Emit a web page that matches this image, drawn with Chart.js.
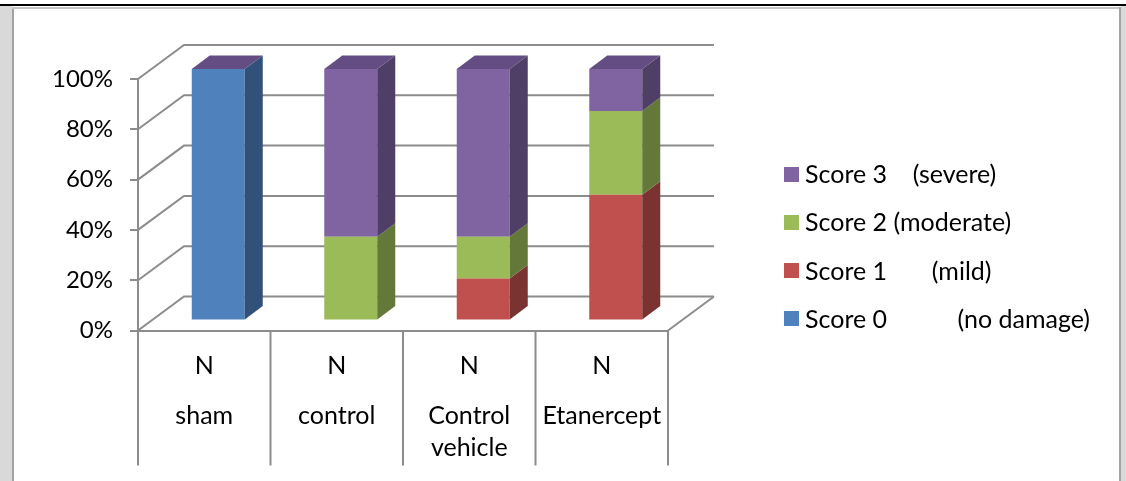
<!DOCTYPE html>
<html>
<head>
<meta charset="utf-8">
<script src="https://cdn.jsdelivr.net/npm/chart.js@4/dist/chart.umd.min.js"></script>
<style>
  html, body { margin: 0; padding: 0; background: #fff; }
  #page { position: relative; width: 1126px; height: 481px; overflow: hidden; background: #fff; }
  .frame { position: absolute; }
  #c { position: absolute; left: 0; top: 0; }
</style>
</head>
<body>
<div id="page">
  <!-- table cell border around the figure -->
  <div class="frame" style="left:0;top:4px;width:1126px;height:2px;background:#000"></div>
  <div class="frame" style="left:0;top:6px;width:12px;height:475px;background:#d9d9d9"></div>
  <div class="frame" style="left:12px;top:7px;width:2px;height:474px;background:#a3a3a3"></div>
  <div class="frame" style="left:12px;top:7px;width:1109px;height:2px;background:#c4c4c4"></div>
  <div class="frame" style="left:1119px;top:7px;width:2px;height:474px;background:#a3a3a3"></div>
  <div class="frame" style="left:1121px;top:6px;width:5px;height:475px;background:#d9d9d9"></div>
  <canvas id="c" width="1126" height="481"></canvas>
</div>
<script>
// Groups on the outer category level, one marker row ("N") on the inner level
const categories = ['sham', 'control', ['Control', 'vehicle'], 'Etanercept'];
const innerLabels = ['N', 'N', 'N', 'N'];

// Percentage of animals per damage score in each group
const seriesNames = ['Score 0           (no damage)', 'Score 1       (mild)', 'Score 2 (moderate)', 'Score 3    (severe)'];
const score0 = [100, 0, 0, 0];
const score1 = [0, 0, 16.7, 50];
const score2 = [0, 33.3, 16.6, 33.3];
const score3 = [0, 66.7, 66.7, 16.7];

const yTicks = [0, 20, 40, 60, 80, 100];

// Office-style palette: front face, side face, top face
const frontColors = ['#4F81BD', '#C0504D', '#9BBB59', '#8064A2'];
const sideColors  = ['#31507A', '#7B3331', '#637839', '#4F3E66'];
const topColors   = ['#3C6392', '#94403D', '#7A9446', '#634D82'];

const FONT = 'Lato, "Open Sans", sans-serif';
const LINE = '#8c8c8c';
const TEXT_SIZE = 25;
const TICK_SIZE = 24;

// oblique projection offsets
const WALL = { dx: 46, dy: -34 };      // front plane -> back wall
const BAR_OFF = { dx: 14, dy: -10 };   // front plane -> bar front faces
const BAR_DEPTH = { dx: 18, dy: -13.5 };
const DIVIDER_LEN = 135;

const depth3d = {
  id: 'depth3d',
  beforeDatasetsDraw(chart) {
    const { ctx, chartArea: a, scales: { x, y } } = chart;
    ctx.save();
    ctx.strokeStyle = LINE;
    ctx.lineWidth = 2;
    ctx.lineCap = 'butt';
    // side wall diagonals and back wall gridlines
    y.ticks.forEach(t => {
      const py = y.getPixelForValue(t.value);
      ctx.beginPath();
      ctx.moveTo(a.left, py);
      ctx.lineTo(a.left + WALL.dx, py + WALL.dy);
      ctx.lineTo(a.right + WALL.dx, py + WALL.dy);
      ctx.stroke();
    });
    // right edge of the floor
    ctx.beginPath();
    ctx.moveTo(a.right, a.bottom);
    ctx.lineTo(a.right + WALL.dx, a.bottom + WALL.dy);
    ctx.stroke();
    // category dividers under the axis
    const n = x.getLabels().length;
    const half = (x.getPixelForValue(1) - x.getPixelForValue(0)) / 2;
    for (let i = 0; i <= n; i++) {
      const px = i < n ? x.getPixelForValue(i) - half : x.getPixelForValue(n - 1) + half;
      ctx.beginPath();
      ctx.moveTo(px, a.bottom);
      ctx.lineTo(px, a.bottom + DIVIDER_LEN);
      ctx.stroke();
    }
    ctx.restore();
    // bars sit a little behind the front plane
    ctx.save();
    ctx.translate(BAR_OFF.dx, BAR_OFF.dy);
  },
  afterDatasetsDraw(chart) {
    const ctx = chart.ctx;
    ctx.restore();
    ctx.save();
    ctx.translate(BAR_OFF.dx, BAR_OFF.dy);
    const count = chart.data.datasets.length;
    for (let di = 0; di < count; di++) {
      const meta = chart.getDatasetMeta(di);
      meta.data.forEach(bar => {
        const { x, y, base, width } = bar.getProps(['x', 'y', 'base', 'width'], true);
        const r = x + width / 2;
        ctx.fillStyle = sideColors[di];
        ctx.beginPath();
        ctx.moveTo(r, y);
        ctx.lineTo(r + BAR_DEPTH.dx, y + BAR_DEPTH.dy);
        ctx.lineTo(r + BAR_DEPTH.dx, base + BAR_DEPTH.dy);
        ctx.lineTo(r, base);
        ctx.closePath();
        ctx.fill();
      });
    }
    // top cap belongs to the uppermost series of each stack
    const topMeta = chart.getDatasetMeta(count - 1);
    topMeta.data.forEach(bar => {
      const { x, y, width } = bar.getProps(['x', 'y', 'width'], true);
      const l = x - width / 2, r = x + width / 2;
      ctx.fillStyle = topColors[count - 1];
      ctx.beginPath();
      ctx.moveTo(l, y);
      ctx.lineTo(r, y);
      ctx.lineTo(r + BAR_DEPTH.dx, y + BAR_DEPTH.dy);
      ctx.lineTo(l + BAR_DEPTH.dx, y + BAR_DEPTH.dy);
      ctx.closePath();
      ctx.fill();
    });
    ctx.restore();
  },
  afterDraw(chart) {
    // legend, top series first
    const ctx = chart.ctx;
    const ds = chart.data.datasets;
    const x0 = 784, y0 = 174, step = 48.3, box = 15;
    ctx.save();
    ctx.font = TEXT_SIZE + 'px ' + FONT;
    ctx.textBaseline = 'middle';
    ctx.textAlign = 'left';
    for (let k = 0; k < ds.length; k++) {
      const di = ds.length - 1 - k;
      const cy = y0 + k * step;
      ctx.fillStyle = frontColors[di];
      ctx.fillRect(x0, Math.round(cy - box / 2), box, box);
      ctx.fillStyle = '#000';
      ctx.fillText(ds[di].label, x0 + 21, cy + 1);
    }
    ctx.restore();
  }
};

const seriesData = [score0, score1, score2, score3];

function build() {
  new Chart(document.getElementById('c'), {
    type: 'bar',
    data: {
      labels: categories,
      datasets: seriesData.map((d, i) => ({
        label: seriesNames[i],
        data: d,
        backgroundColor: frontColors[i],
        borderWidth: 0,
        barPercentage: 0.4,
        categoryPercentage: 1.0,
        clip: false
      }))
    },
    options: {
      responsive: false,
      animation: false,
      devicePixelRatio: 1,
      layout: { padding: { left: 0, top: 79, right: 458, bottom: 0 } },
      plugins: { legend: { display: false }, tooltip: { enabled: false } },
      scales: {
        x: {
          stacked: true,
          offset: true,
          weight: 0,
          grid: { display: false, drawTicks: false },
          border: { display: true, color: LINE, width: 2 },
          ticks: {
            padding: 20,
            color: '#000',
            font: { family: FONT, size: TEXT_SIZE },
            maxRotation: 0,
            autoSkip: false,
            callback: (v, i) => innerLabels[i]
          },
          afterFit: s => { s.height = 55; }
        },
        x2: {
          type: 'category',
          position: 'bottom',
          offset: true,
          weight: 1,
          grid: { display: false, drawTicks: false },
          border: { display: false },
          ticks: {
            padding: 14.5,
            color: '#000',
            font: { family: FONT, size: TEXT_SIZE, lineHeight: 32 / TEXT_SIZE },
            maxRotation: 0,
            autoSkip: false
          },
          afterFit: s => { s.height = 95.5; }
        },
        y: {
          stacked: true,
          min: 0,
          max: 100,
          afterBuildTicks: s => { s.ticks = yTicks.map(v => ({ value: v })); },
          grid: { drawOnChartArea: false, drawTicks: true, tickLength: 8, color: LINE, lineWidth: 2 },
          border: { display: true, color: LINE, width: 2 },
          ticks: {
            padding: 17,
            color: '#000',
            font: { family: FONT, size: TICK_SIZE },
            callback: v => v + '%'
          },
          afterFit: s => { s.width = 138; }
        }
      }
    },
    plugins: [depth3d]
  });
}

if (document.fonts && document.fonts.load) {
  document.fonts.load('25px Lato').then(build, build);
} else {
  build();
}
</script>
</body>
</html>
